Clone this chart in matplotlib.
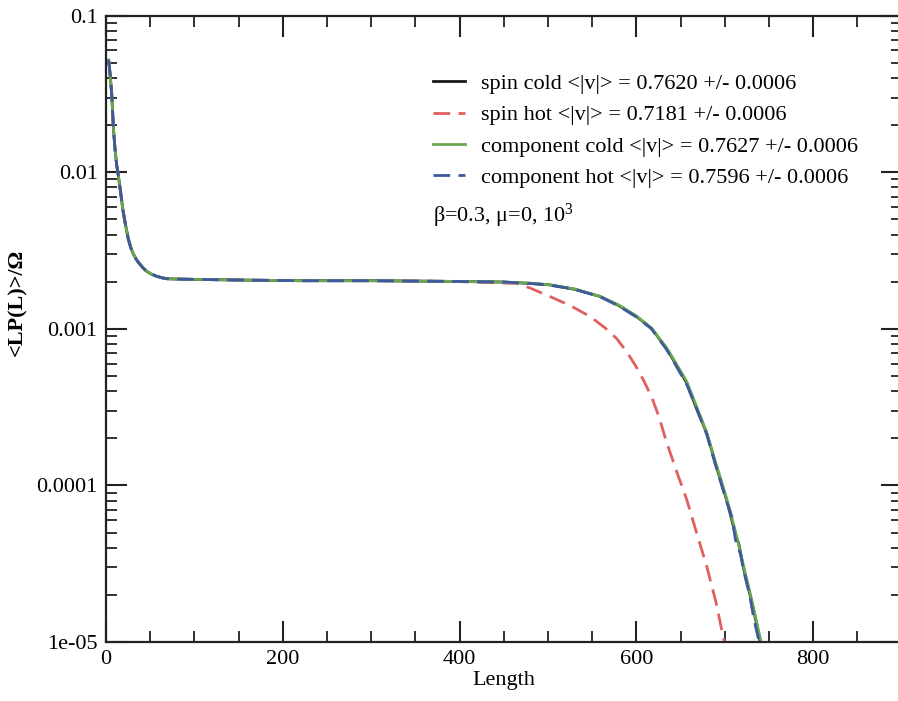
import numpy as np
import matplotlib
matplotlib.use('Agg')
import matplotlib.pyplot as plt
from matplotlib.ticker import MultipleLocator, LogLocator, FixedLocator, FixedFormatter, NullFormatter

plt.rcParams['font.family'] = ['Liberation Serif', 'DejaVu Serif']
plt.rcParams['mathtext.fontset'] = 'custom'
plt.rcParams['mathtext.rm'] = 'Liberation Serif'
plt.rcParams['mathtext.it'] = 'Liberation Serif:italic'

# ---- data ----
# shared head (all four curves coincide here)
L_head = [3, 4, 5, 6.4, 8.3, 10, 12, 14, 16.6, 19, 21.5, 25.2, 28, 31, 34.5, 38.5, 42, 46, 51, 57,
          63, 69, 80, 100, 150, 220, 300, 389, 450]
P_head = [0.052, 0.046, 0.040, 0.032, 0.0196, 0.0145, 0.0112, 0.0095, 0.0074, 0.0058, 0.0048,
          0.00375, 0.0033, 0.00300, 0.00276, 0.00258, 0.00245, 0.00233, 0.00224, 0.00217,
          0.00212, 0.00209, 0.00208, 0.00207, 0.00205, 0.00203, 0.00203, 0.00201, 0.00199]

# spin cold tail
L_sc = [480, 502, 530, 559, 580, 600, 617, 634, 645, 657, 668, 679.5, 690, 702, 712, 716, 721, 726, 731, 736, 740]
P_sc = [0.00195, 0.00191, 0.00179, 0.00161, 0.00141, 0.0012, 0.00101, 0.00075, 0.00059, 0.00045,
        0.00031, 0.000216, 0.000135, 8.1e-5, 4.9e-5, 4.2e-5, 3.0e-5, 2.3e-5, 1.75e-5, 1.3e-5, 1.0e-5]

# spin hot tail
L_sh = [465, 480, 502, 525, 547.5, 565, 578, 590, 600, 608, 617, 625, 634, 645, 657, 668, 679.5, 690, 698, 702]
P_sh = [0.00195, 0.00182, 0.00161, 0.00141, 0.0012, 0.00101, 0.000863, 0.00070, 0.00057, 0.00047,
        0.00037, 0.00028, 0.000190, 0.000125, 8.1e-5, 5.0e-5, 3.05e-5, 1.8e-5, 1.09e-5, 9e-6]

# component cold tail
L_cc = [480, 502, 530, 559, 580, 600, 617, 634, 645, 657, 668, 679.5, 690, 702, 712, 721, 731, 741]
P_cc = [0.00196, 0.00191, 0.00180, 0.00161, 0.00142, 0.00121, 0.00101, 0.00076, 0.00060, 0.00046,
        0.00032, 0.000218, 0.000138, 8.3e-5, 5.1e-5, 3.1e-5, 1.8e-5, 1.0e-5]

# component hot tail
L_ch = [480, 502, 530, 559, 580, 600, 617, 634, 645, 657, 668, 679.5, 690, 702, 708, 712, 718, 721, 728, 733, 738]
P_ch = [0.00195, 0.00190, 0.00179, 0.00160, 0.00140, 0.00119, 0.00100, 0.00074, 0.00058, 0.00044,
        0.00031, 0.000212, 0.000132, 7.9e-5, 6.3e-5, 4.5e-5, 3.6e-5, 2.9e-5, 2.0e-5, 1.4e-5, 1.05e-5]

labels = ['spin cold <|v|> = 0.7620 +/- 0.0006',
          'spin hot <|v|> = 0.7181 +/- 0.0006',
          'component cold <|v|> = 0.7627 +/- 0.0006',
          'component hot <|v|> = 0.7596 +/- 0.0006']

y_ticks = [1e-5, 1e-4, 1e-3, 1e-2, 1e-1]
y_ticklabels = ['1e-05', '0.0001', '0.001', '0.01', '0.1']

# ---- figure ----
fig = plt.figure(figsize=(8.98, 7.01), dpi=100)
ax = fig.add_axes([106 / 898, 59 / 701, (901.6 - 106) / 898, 626.3 / 701])

ax.plot(L_head + L_sc, P_head + P_sc, color='#1a1a1a', lw=2.0, label=labels[0])
ax.plot(L_head[:-1] + L_sh, P_head[:-1] + P_sh, color='#e06060', lw=2.0, dashes=(6, 3), label=labels[1])
ax.plot(L_head + L_cc, P_head + P_cc, color='#6aa84f', lw=2.0, label=labels[2])
ax.plot(L_head + L_ch, P_head + P_ch, color='#3d5a9e', lw=2.0, dashes=(6, 3), label=labels[3])

ax.set_yscale('log')
ax.set_xlim(0, 900)
ax.set_ylim(1e-5, 0.1)

ax.xaxis.set_major_locator(MultipleLocator(200))
ax.xaxis.set_minor_locator(MultipleLocator(50))
ax.yaxis.set_major_locator(FixedLocator(y_ticks))
ax.yaxis.set_major_formatter(FixedFormatter(y_ticklabels))
ax.yaxis.set_minor_locator(LogLocator(base=10, subs=np.arange(2, 10)))
ax.yaxis.set_minor_formatter(NullFormatter())

ax.tick_params(which='both', direction='in', top=True, right=True, labelsize=16, pad=6, color='#222222')
ax.tick_params(which='major', length=15, width=1.5)
ax.tick_params(which='minor', length=8, width=1.3)
for s in ax.spines.values():
    s.set_linewidth(1.6)
    s.set_color('#222222')

ax.set_xlabel('Length', fontsize=16, labelpad=1)
ax.set_ylabel('<LP(L)>/Ω', fontsize=16, fontweight='bold')
ax.yaxis.set_label_coords(-0.099, 0.543)

leg = ax.legend(loc='upper left', bbox_to_anchor=(0.411, 0.908), frameon=False, fontsize=16,
                handlelength=1.45, handletextpad=0.7, labelspacing=0.49, borderpad=0, borderaxespad=0)

ax.text(0.411, 0.68, 'β=0.3, μ=0, 10$^{3}$', transform=ax.transAxes, fontsize=16, va='center', ha='left')

fig.savefig('out.png', dpi=100)
